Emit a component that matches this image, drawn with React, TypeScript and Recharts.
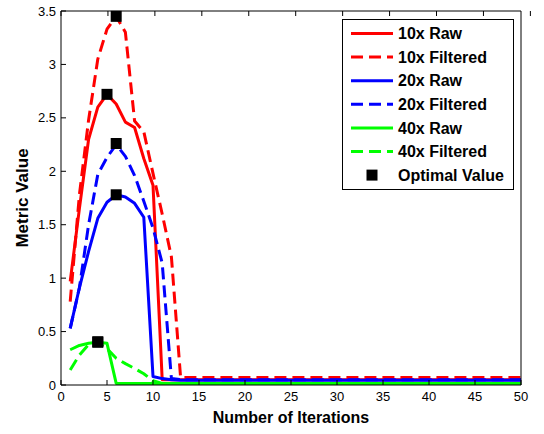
import { ComposedChart, Line, Scatter, XAxis, YAxis } from "recharts";

const FONT = "'Liberation Sans', Arial, Helvetica, sans-serif";

const iterations = [
  1, 2, 3, 4, 5, 6, 7, 8, 9, 10,
  11, 12, 13, 14, 15, 16, 17, 18, 19, 20,
  21, 22, 23, 24, 25, 26, 27, 28, 29, 30,
  31, 32, 33, 34, 35, 36, 37, 38, 39, 40,
  41, 42, 43, 44, 45, 46, 47, 48, 49, 50,
];

const raw10 = [
  0.97, 1.65, 2.3, 2.6, 2.72, 2.63, 2.46, 2.41, 2.12, 1.87,
  0.05, 0.05, 0.05, 0.05, 0.05, 0.05, 0.05, 0.05, 0.05, 0.05,
  0.05, 0.05, 0.05, 0.05, 0.05, 0.05, 0.05, 0.05, 0.05, 0.05,
  0.05, 0.05, 0.05, 0.05, 0.05, 0.05, 0.05, 0.05, 0.05, 0.05,
  0.05, 0.05, 0.05, 0.05, 0.05, 0.05, 0.05, 0.05, 0.05, 0.05,
];

const filtered10 = [
  0.78, 1.78, 2.48, 3.05, 3.33, 3.45, 3.3, 2.47, 2.37, 1.98,
  1.6, 1.2, 0.07, 0.07, 0.07, 0.07, 0.07, 0.07, 0.07, 0.07,
  0.07, 0.07, 0.07, 0.07, 0.07, 0.07, 0.07, 0.07, 0.07, 0.07,
  0.07, 0.07, 0.07, 0.07, 0.07, 0.07, 0.07, 0.07, 0.07, 0.07,
  0.07, 0.07, 0.07, 0.07, 0.07, 0.07, 0.07, 0.07, 0.07, 0.07,
];

const raw20 = [
  0.53, 0.91, 1.25, 1.56, 1.71, 1.78, 1.76, 1.7, 1.57, 0.08,
  0.06, 0.05, 0.045, 0.045, 0.045, 0.045, 0.045, 0.045, 0.045, 0.045,
  0.045, 0.045, 0.045, 0.045, 0.045, 0.045, 0.045, 0.045, 0.045, 0.045,
  0.045, 0.045, 0.045, 0.045, 0.045, 0.045, 0.045, 0.045, 0.045, 0.045,
  0.045, 0.045, 0.045, 0.045, 0.045, 0.045, 0.045, 0.045, 0.045, 0.045,
];

const filtered20 = [
  0.53, 0.91, 1.5, 1.97, 2.13, 2.25, 2.14, 1.96, 1.72, 1.47,
  1.14, 0.06, 0.05, 0.05, 0.05, 0.05, 0.05, 0.05, 0.05, 0.05,
  0.05, 0.05, 0.05, 0.05, 0.05, 0.05, 0.05, 0.05, 0.05, 0.05,
  0.05, 0.05, 0.05, 0.05, 0.05, 0.05, 0.05, 0.05, 0.05, 0.05,
  0.05, 0.05, 0.05, 0.05, 0.05, 0.05, 0.05, 0.05, 0.05, 0.05,
];

const raw40 = [
  0.33, 0.37, 0.39, 0.4, 0.39, 0.015, 0.015, 0.015, 0.015, 0.015,
  0.015, 0.015, 0.015, 0.015, 0.015, 0.015, 0.015, 0.015, 0.015, 0.015,
  0.015, 0.015, 0.015, 0.015, 0.015, 0.015, 0.015, 0.015, 0.015, 0.015,
  0.015, 0.015, 0.015, 0.015, 0.015, 0.015, 0.015, 0.015, 0.015, 0.015,
  0.015, 0.015, 0.015, 0.015, 0.015, 0.015, 0.015, 0.015, 0.015, 0.015,
];

const filtered40 = [
  0.14, 0.28, 0.38, 0.4, 0.34, 0.25, 0.2, 0.155, 0.105, 0.04,
  0.015, 0.015, 0.015, 0.015, 0.015, 0.015, 0.015, 0.015, 0.015, 0.015,
  0.015, 0.015, 0.015, 0.015, 0.015, 0.015, 0.015, 0.015, 0.015, 0.015,
  0.015, 0.015, 0.015, 0.015, 0.015, 0.015, 0.015, 0.015, 0.015, 0.015,
  0.015, 0.015, 0.015, 0.015, 0.015, 0.015, 0.015, 0.015, 0.015, 0.015,
];

// optimal value markers (one per series)
const optimalIter = [5, 6, 6, 6, 4, 4];
const optimalValue = [2.72, 3.45, 1.78, 2.26, 0.405, 0.4];

const xTicks = [0, 5, 10, 15, 20, 25, 30, 35, 40, 45, 50];
const yTicks = [0, 0.5, 1, 1.5, 2, 2.5, 3, 3.5];

const series = [
  { key: "raw10", name: "10x Raw", color: "#ff0000", dashed: false, values: raw10 },
  { key: "filtered10", name: "10x Filtered", color: "#ff0000", dashed: true, values: filtered10 },
  { key: "raw20", name: "20x Raw", color: "#0000ff", dashed: false, values: raw20 },
  { key: "filtered20", name: "20x Filtered", color: "#0000ff", dashed: true, values: filtered20 },
  { key: "raw40", name: "40x Raw", color: "#00ff00", dashed: false, values: raw40 },
  { key: "filtered40", name: "40x Filtered", color: "#00ff00", dashed: true, values: filtered40 },
];

const rows = iterations.map((iter, i) => {
  const row: Record<string, number> = { iter };
  series.forEach((s) => (row[s.key] = s.values[i]));
  return row;
});

const optimal = optimalIter.map((iter, i) => ({ iter, value: optimalValue[i] }));

const DASH = "12 6";
const TICK_LEN = 5;

function BottomTick({ x, y, payload }: any) {
  return (
    <g>
      <line x1={x} y1={y} x2={x} y2={y - TICK_LEN} stroke="#000" />
      <text x={x} y={y + 7} dy="0.71em" textAnchor="middle" fontSize={13} fontFamily={FONT} fill="#000">
        {payload.value}
      </text>
    </g>
  );
}

function TopTick({ x, y }: any) {
  return <line x1={x} y1={y} x2={x} y2={y + TICK_LEN} stroke="#000" />;
}

function LeftTick({ x, y, payload }: any) {
  return (
    <g>
      <line x1={x} y1={y} x2={x + TICK_LEN} y2={y} stroke="#000" />
      <text x={x - 5} y={y} dy="0.355em" textAnchor="end" fontSize={13} fontFamily={FONT} fill="#000">
        {payload.value}
      </text>
    </g>
  );
}

function RightTick({ x, y }: any) {
  return <line x1={x} y1={y} x2={x - TICK_LEN} y2={y} stroke="#000" />;
}

function Marker({ cx, cy }: any) {
  return <rect x={cx - 5.5} y={cy - 5.5} width={11} height={11} fill="#000" />;
}

function LegendBox() {
  const rowH = 23.6;
  return (
    <svg width={172} height={171} style={{ position: "absolute", left: 342, top: 19 }}>
      <rect x={0.5} y={0.5} width={171} height={170} fill="#fff" stroke="#000" />
      {series.map((s, i) => {
        const cy = 14.5 + i * rowH;
        return (
          <g key={s.key}>
            <line x1={9} x2={51} y1={cy} y2={cy} stroke={s.color} strokeWidth={3} strokeDasharray={s.dashed ? DASH : undefined} />
            <text x={56} y={cy} dy="0.355em" fontSize={16} fontWeight="bold" fontFamily={FONT} fill="#000">
              {s.name}
            </text>
          </g>
        );
      })}
      <rect x={24.5} y={14.5 + 6 * rowH - 5.5} width={11} height={11} fill="#000" />
      <text x={56} y={14.5 + 6 * rowH} dy="0.355em" fontSize={16} fontWeight="bold" fontFamily={FONT} fill="#000">
        Optimal Value
      </text>
    </svg>
  );
}

const labelStyle = { fontSize: 16, fontWeight: "bold", fontFamily: FONT, fill: "#000" };

export default function App() {
  return (
    <div style={{ position: "absolute", left: 0, top: 0, width: 544, height: 434, background: "#fff" }}>
      <ComposedChart width={544} height={434} data={rows} margin={{ top: 10, right: 22, bottom: 19, left: 1 }}>
        <XAxis
          dataKey="iter"
          type="number"
          domain={[0, 50]}
          ticks={xTicks}
          interval={0}
          height={30}
          tickSize={0}
          tickMargin={0}
          tick={BottomTick}
          axisLine={{ stroke: "#000" }}
          label={{ value: "Number of Iterations", position: "bottom", offset: -3, style: labelStyle }}
        />
        <XAxis
          xAxisId="top"
          orientation="top"
          type="number"
          domain={[0, 50]}
          ticks={xTicks}
          interval={0}
          height={1}
          tickSize={0}
          tickMargin={0}
          tick={TopTick}
          axisLine={{ stroke: "#000" }}
        />
        <YAxis
          type="number"
          domain={[0, 3.5]}
          ticks={yTicks}
          interval={0}
          width={60}
          tickSize={0}
          tickMargin={0}
          tick={LeftTick}
          axisLine={{ stroke: "#000" }}
          label={{
            value: "Metric Value",
            angle: -90,
            position: "insideLeft",
            offset: 21,
            style: { ...labelStyle, fontSize: 17, textAnchor: "middle" },
          }}
        />
        <YAxis
          yAxisId="right"
          orientation="right"
          type="number"
          domain={[0, 3.5]}
          ticks={yTicks}
          interval={0}
          width={1}
          tickSize={0}
          tickMargin={0}
          tick={RightTick}
          axisLine={{ stroke: "#000" }}
        />
        {series.map((s) => (
          <Line
            key={s.key}
            dataKey={s.key}
            name={s.name}
            type="linear"
            stroke={s.color}
            strokeWidth={3}
            strokeDasharray={s.dashed ? DASH : undefined}
            strokeLinejoin="round"
            dot={false}
            activeDot={false}
            isAnimationActive={false}
          />
        ))}
        <Scatter data={optimal} dataKey="value" name="Optimal Value" shape={Marker} isAnimationActive={false} />
      </ComposedChart>
      <LegendBox />
    </div>
  );
}
